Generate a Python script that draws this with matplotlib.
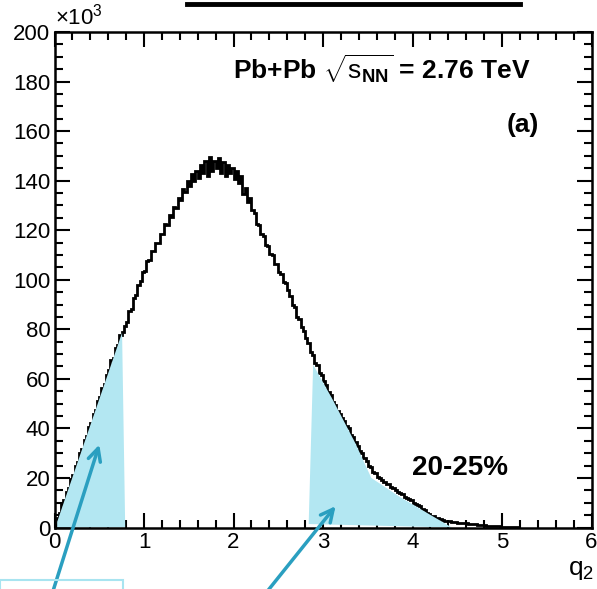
import numpy as np
import matplotlib.pyplot as plt
from matplotlib.lines import Line2D
from matplotlib.patches import Rectangle

plt.rcParams['font.family'] = ['Liberation Sans', 'DejaVu Sans']
plt.rcParams['mathtext.fontset'] = 'custom'
plt.rcParams['mathtext.rm'] = 'Liberation Sans'
plt.rcParams['mathtext.it'] = 'Liberation Sans'
plt.rcParams['mathtext.bf'] = 'Liberation Sans:bold'

# histogram of q2, 20-25% centrality (counts in units of 10^3), 8 bins per 0.2
bin_width = 0.025
counts = [
    1, 4, 6, 9.5, 11, 14.5, 16, 19.5,
    21, 25, 26.5, 30, 31.5, 35.5, 37, 40.5,
    42, 46, 47.5, 51, 52.5, 56.5, 58, 61.5,
    63.5, 67.5, 68.5, 72.5, 73.5, 77.5, 79, 81.5,
    83, 87.5, 88, 92.5, 94, 98, 99.5, 103,
    103.5, 107.5, 108, 111.5, 111.5, 115, 115, 118.5,
    118.5, 122.5, 122, 126, 125.5, 129.5, 129, 133,
    132, 136.5, 135.5, 140, 138, 142.5, 140, 144,
    141, 146.5, 143, 148, 142, 149.5, 144, 148,
    145, 149, 143, 147.5, 142, 146.5, 143, 145,
    140.5, 144, 139, 142, 134.5, 137, 131.5, 133,
    128, 127, 122.5, 122, 118.5, 117.5, 114, 113.5,
    110.5, 110, 106.5, 106.5, 103, 102.5, 99, 98.5,
    96, 93.5, 90, 89, 85, 84, 81, 79.5,
    76.5, 74.5, 71, 69.5, 66.5, 65.5, 62.5, 61.5,
    59, 57.5, 54.5, 53.5, 50.5, 49.5, 47, 46,
    44, 43, 41, 40, 37.5, 36.5, 34.5, 33,
    31, 30, 28, 27, 25, 24.5, 22.5, 22,
    20.5, 20, 19, 18.5, 17.5, 17.5, 16.5, 16,
    15, 14.5, 14, 13.5, 12.5, 12, 11.5, 11,
    10, 9.5, 9, 8.5, 7.5, 7, 6, 5.5,
    4.8, 4.5, 4, 3.8, 3.3, 3.2, 2.8, 2.7,
    2.5, 2.3, 2.2, 2.1, 2, 1.8, 1.9, 1.7,
    1.7, 1.5, 1.6, 1.3, 1.4, 1.1, 1.2, 1,
    1, 0.8, 0.8, 0.6, 0.6, 0.5, 0.5, 0.4,
    0.4, 0.3, 0.3, 0.2, 0.2, 0.1, 0.1, 0,
]
edges = np.arange(len(counts) + 1) * bin_width

# shaded selections (low q2 and high q2)
low_x = [0.03, 0.755, 0.79, 0.03]
low_y = [2.3, 78.6, 0, 0]
high_x = [2.84, 2.89, 3.11, 3.36, 3.54, 3.86, 4.44]
high_y = [1.4, 65.7, 51.5, 34.1, 20, 12.3, 0]

shade = '#b3e7f2'
teal = '#2a9fc0'

fig = plt.figure(figsize=(5.97, 5.89), dpi=100)
W, H = 597, 589
ax = fig.add_axes([54.5 / W, 1 - 527.5 / H, 537 / W, 495.5 / H])

ax.stairs(counts, edges, color='black', lw=2, zorder=2)
ax.fill(low_x, low_y, color=shade, lw=0, zorder=3)
ax.fill(high_x, high_y, color=shade, lw=0, zorder=3)

ax.set_xlim(0, 6)
ax.set_ylim(0, 200)
ax.set_xticks(range(7))
ax.set_xticks(np.arange(0, 6.01, 0.2), minor=True)
ax.set_yticks(range(0, 201, 20))
ax.set_yticks(range(0, 201, 5), minor=True)
ax.tick_params(which='both', direction='in', top=True, right=True, width=1.5,
               labelsize=16, pad=3)
ax.tick_params(which='major', length=11)
ax.tick_params(which='minor', length=5.5)
for s in ax.spines.values():
    s.set_linewidth(1.8)
    s.set_zorder(4)

def fpos(px, py):
    return px / W, 1 - py / H

fig.text(*fpos(55, 30), r'$\times10^{3}$', fontsize=16, va='bottom', ha='left')
fig.text(*fpos(233, 80), r'Pb+Pb $\sqrt{\mathrm{s}_{\mathbf{NN}}}$ = 2.76 TeV',
         fontsize=19, fontweight='bold', va='baseline', ha='left')
fig.text(*fpos(539, 125), '(a)', fontsize=19, fontweight='bold', va='center', ha='right')
fig.text(*fpos(412, 468), '20-25%', fontsize=20, fontweight='bold', va='center', ha='left')
fig.text(*fpos(594, 570), r'q$_2$', fontsize=19, va='center', ha='right')

# slide decorations: title underline, box and arrows
fig.add_artist(Line2D([187 / W, 520 / W], [1 - 4 / H, 1 - 4 / H], color='black', lw=3.5))
fig.add_artist(Rectangle(fpos(0, 600), 123 / W, 20 / H, fill=False,
                         edgecolor='#a8e4f0', lw=1.5))
arrow = dict(arrowstyle='->,head_length=0.9,head_width=0.45', color=teal, lw=2.5)
ax.annotate('', xy=(0.51, 34.5), xytext=(-0.02, -26), arrowprops=arrow,
            annotation_clip=False, zorder=5)
ax.annotate('', xy=(3.16, 9.5), xytext=(2.35, -27), arrowprops=arrow,
            annotation_clip=False, zorder=5)

fig.savefig('out.png', dpi=100)
